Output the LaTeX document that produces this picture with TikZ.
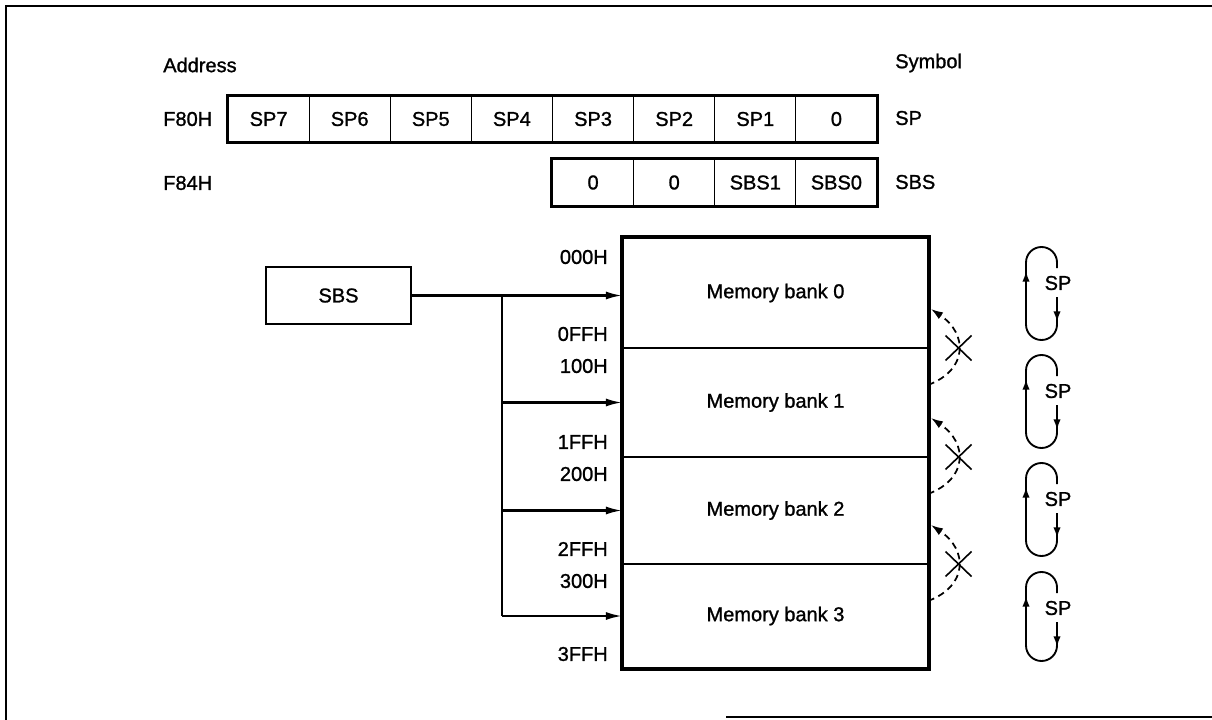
\documentclass[tikz,border=0pt]{standalone}
\usepackage{fontspec}
\setmainfont[FakeBold=1.2]{Liberation Sans}
\usetikzlibrary{arrows.meta}
\begin{document}
\begin{tikzpicture}[x=0.75pt,y=-0.75pt,
  lbl/.style={inner sep=0pt, font=\fontsize{15}{17}\selectfont},
  cell/.style={draw, line width=0.9pt, minimum width=60.84pt, minimum height=34.5pt, inner sep=0pt, font=\fontsize{15}{17}\selectfont},
  regborder/.style={line width=2.3pt},
  bank/.style={draw, line width=1.6pt, minimum width=228.75pt, inner sep=0pt, font=\fontsize{15}{17}\selectfont},
  membor/.style={line width=2.6pt},
  sbsbox/.style={draw, line width=2.1pt, minimum width=108.75pt, minimum height=42.75pt, inner sep=0pt, font=\fontsize{15}{17}\selectfont},
  feed/.style={line width=1.6pt, -{Latex[length=12pt,width=6pt]}},
  branch/.style={line width=1.2pt},
  loopline/.style={line width=1.4pt},
  looparrow/.style={line width=1.4pt, -{Latex[length=8pt,width=5.5pt]}},
  noway/.style={line width=1.3pt, dash pattern=on 5pt off 3.5pt, -{Latex[length=9pt,width=6pt]}},
  cross/.style={line width=1.2pt},
  frame/.style={line width=1pt}
]
\useasboundingbox (0,0) rectangle (1212,720);
% frame
\draw[frame] (6,720) -- (6,6) -- (1212,6);
\draw[frame] (726,717) -- (1212,717);

% headings
\node[lbl, anchor=west] (addr) at (163,65) {Address};
\node[lbl, anchor=west] (symb) at (895,63) {Symbol};
\node[lbl, anchor=west] (f80) at (163,119) {F80H};
\node[lbl, anchor=west] (f84) at (163,183) {F84H};
\node[lbl, anchor=west] (symsp) at (895,118) {SP};
\node[lbl, anchor=west] (symsbs) at (895,182) {SBS};

% SP register
\node[cell] (sp7) at (268.6,119) {SP7};
\node[cell] (sp6) at (349.7,119) {SP6};
\node[cell] (sp5) at (430.8,119) {SP5};
\node[cell] (sp4) at (511.9,119) {SP4};
\node[cell] (sp3) at (593.1,119) {SP3};
\node[cell] (sp2) at (674.2,119) {SP2};
\node[cell] (sp1) at (755.3,119) {SP1};
\node[cell] (sp0) at (836.4,119) {0};
\draw[regborder] (sp7.north west) rectangle (sp0.south east);

% SBS register
\node[cell] (sbs3) at (593.1,182.5) {0};
\node[cell] (sbs2) at (674.2,182.5) {0};
\node[cell] (sbs1) at (755.3,182.5) {SBS1};
\node[cell] (sbs0) at (836.4,182.5) {SBS0};
\draw[regborder] (sbs3.north west) rectangle (sbs0.south east);

% memory banks
\node[bank, minimum height=82.5pt] (b0) at (775.5,293) {Memory bank 0};
\node[bank, minimum height=81.75pt] (b1) at (775.5,402.5) {Memory bank 1};
\node[bank, minimum height=80.25pt] (b2) at (775.5,510.5) {Memory bank 2};
\node[bank, minimum height=78pt] (b3) at (775.5,616) {Memory bank 3};
\draw[membor] (b0.north west) rectangle (b3.south east);

% address labels
\node[lbl, anchor=east] (a000) at (608,257) {000H};
\node[lbl, anchor=east] (a0ff) at (608,334) {0FFH};
\node[lbl, anchor=east] (a100) at (608,366) {100H};
\node[lbl, anchor=east] (a1ff) at (608,442) {1FFH};
\node[lbl, anchor=east] (a200) at (608,474) {200H};
\node[lbl, anchor=east] (a2ff) at (608,549) {2FFH};
\node[lbl, anchor=east] (a300) at (608,581) {300H};
\node[lbl, anchor=east] (a3ff) at (608,654) {3FFH};

% SBS box and feeds
\node[sbsbox] (sbs) at (338.5,295.5) {SBS};
\coordinate (j) at (502,295.5);
\draw[feed] (sbs.east) -- (sbs.east -| b0.west);
\draw[branch] (j) -- (j |- b3.west);
\draw[feed] (j |- b1.west) -- (b1.west);
\draw[feed] (j |- b2.west) -- (b2.west);
\draw[feed] (j |- b3.west) -- (b3.west);

% forbidden bank crossings
\foreach \d [count=\i] in {348,457,564} {
  \coordinate (ns\i) at (928,\d+37);
  \coordinate (nt\i) at (931,\d-39);
  \draw[noway] (ns\i) .. controls (968,\d+22) and (968,\d-14) .. (nt\i);
  \draw[cross] (945.5,\d-12.5) -- (971.5,\d+12.5);
  \draw[cross] (945.5,\d+12.5) -- (971.5,\d-12.5);
}

% SP wrap-around loops
\foreach \T/\B [count=\i] in {247/340, 355/448, 463/556, 572/661} {
  \draw[loopline, rounded corners=11.6pt] (1057,\T+21) -- (1057,\T) -- (1026,\T) -- (1026,\B) -- (1057,\B) -- (1057,\T+50);
  \draw[looparrow] (1026,\T+44) -- (1026,\T+24);
  \draw[looparrow] (1057,\T+54) -- (1057,\T+75);
  \node[lbl] (spl\i) at (1058,\T+36) {SP};
}
\end{tikzpicture}
\end{document}
